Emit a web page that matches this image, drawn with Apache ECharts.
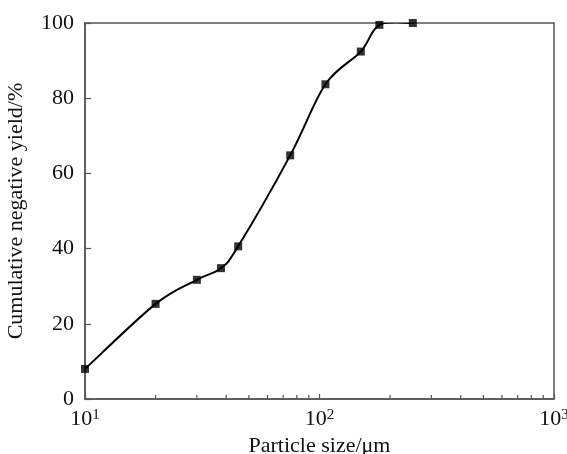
<!DOCTYPE html>
<html>
<head>
<meta charset="utf-8">
<script src="https://cdn.jsdelivr.net/npm/echarts@6/dist/echarts.min.js"></script>
<style>html,body{margin:0;padding:0;background:#fff;}#c{width:567px;height:454px;}</style>
</head>
<body>
<div id="c"></div>
<script>
var sizes = [10, 20, 30, 38, 45, 75, 106, 150, 180, 250];
var yields = [8, 25.3, 31.7, 34.8, 40.6, 64.8, 83.7, 92.4, 99.5, 100];
var minorTicks = [20, 30, 40, 50, 60, 70, 80, 90, 200, 300, 400, 500, 600, 700, 800, 900];

var FONT = '"Liberation Serif", "Times New Roman", serif';
var AXIS_COLOR = '#555';

// Catmull-Rom spline through the pixel positions given by the axes
function splinePath(pts) {
  var d = 'M' + pts[0][0] + ' ' + pts[0][1];
  for (var i = 0; i < pts.length - 1; i++) {
    var p0 = pts[Math.max(i - 1, 0)], p1 = pts[i], p2 = pts[i + 1], p3 = pts[Math.min(i + 2, pts.length - 1)];
    var c1x = p1[0] + (p2[0] - p0[0]) / 6, c1y = p1[1] + (p2[1] - p0[1]) / 6;
    var c2x = p2[0] - (p3[0] - p1[0]) / 6, c2y = p2[1] - (p3[1] - p1[1]) / 6;
    d += ' C' + c1x + ' ' + c1y + ' ' + c2x + ' ' + c2y + ' ' + p2[0] + ' ' + p2[1];
  }
  return d;
}

var chart = echarts.init(document.getElementById('c'));
chart.setOption({
  animation: false,
  backgroundColor: '#fff',
  grid: {left: 85, right: 13, top: 23, bottom: 55, containLabel: false, outerBoundsMode: 'none',
    show: true, borderColor: AXIS_COLOR, borderWidth: 1.5, backgroundColor: 'transparent'},
  xAxis: {
    type: 'log', logBase: 10, min: 10, max: 1000,
    axisLine: {show: true, lineStyle: {color: AXIS_COLOR, width: 1.5}},
    axisTick: {show: true, inside: true, length: 5, lineStyle: {color: AXIS_COLOR, width: 1.2}},
    splitLine: {show: false},
    axisLabel: {
      margin: 9, color: '#111', fontFamily: FONT, fontSize: 22,
      formatter: function (v) { var e = Math.round(Math.log10(v)); return '10{sup|' + e + '}'; },
      rich: {sup: {fontSize: 15, fontFamily: FONT, color: '#111', verticalAlign: 'top', padding: [0, 0, 8, 0]}}
    },
    name: 'Particle size/\u03bcm', nameLocation: 'middle', nameGap: 33,
    nameTextStyle: {fontFamily: FONT, fontSize: 22, color: '#111', verticalAlign: 'top'}
  },
  yAxis: {
    type: 'value', min: 0, max: 100, interval: 20,
    axisLine: {show: true, lineStyle: {color: AXIS_COLOR, width: 1.5}},
    axisTick: {show: true, inside: true, length: 6, lineStyle: {color: AXIS_COLOR, width: 1.2}},
    splitLine: {show: false},
    axisLabel: {margin: 11, color: '#111', fontFamily: FONT, fontSize: 22},
    name: 'Cumulative negative yield/%', nameLocation: 'middle', nameGap: 58,
    nameTextStyle: {fontFamily: FONT, fontSize: 22, color: '#111'}
  },
  series: [
    {
      type: 'custom',
      data: sizes.map(function (s, i) { return [s, yields[i]]; }),
      clip: true,
      silent: true,
      renderItem: function (params, api) {
        if (params.dataIndex !== 0) return null;
        var pts = sizes.map(function (s, i) { return api.coord([s, yields[i]]); });
        return {type: 'path', shape: {pathData: splinePath(pts)},
          style: {stroke: '#000', lineWidth: 2, fill: 'none'}};
      },
      z: 3
    },
    {
      type: 'scatter',
      data: sizes.map(function (s, i) { return [s, yields[i]]; }),
      symbol: 'rect', symbolSize: 8,
      itemStyle: {color: '#000'},
      clip: false,
      z: 4
    },
    {
      type: 'custom',
      data: minorTicks.map(function (v) { return [v, 0]; }),
      silent: true,
      renderItem: function (params, api) {
        var p = api.coord([api.value(0), 0]);
        return {type: 'line', shape: {x1: p[0], y1: p[1], x2: p[0], y2: p[1] - 4},
          style: {stroke: AXIS_COLOR, lineWidth: 1.2}};
      },
      z: 2
    }
  ]
});
</script>
</body>
</html>
